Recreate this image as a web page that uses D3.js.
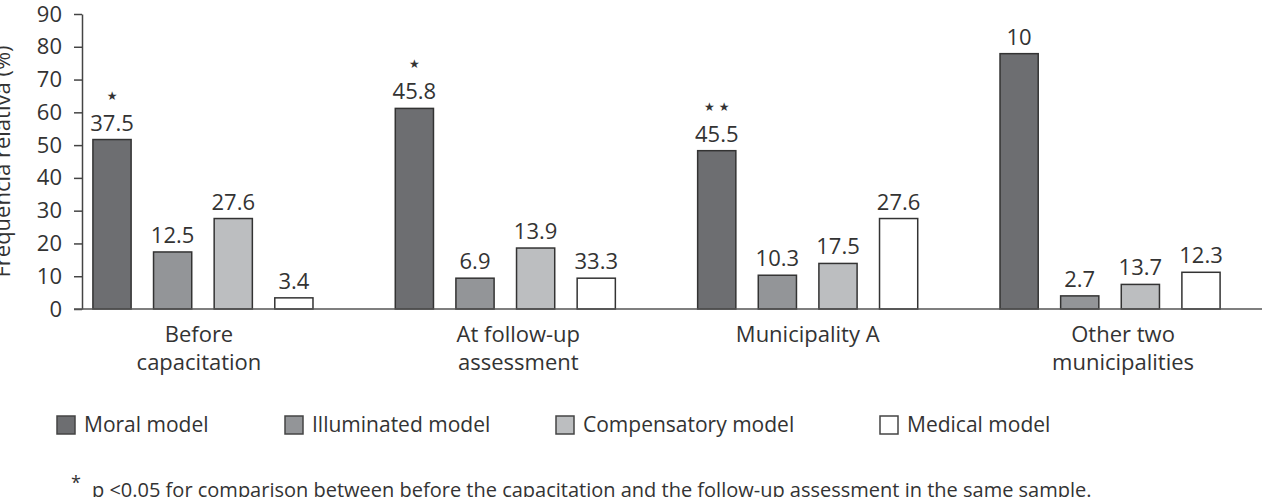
<!DOCTYPE html>
<html>
<head>
<meta charset="utf-8">
<script src="https://cdn.jsdelivr.net/npm/d3@7"></script>
<style>
  body { margin: 0; background: #fff; }
  svg text { font-family: "Open Sans", sans-serif; fill: #333; }
</style>
</head>
<body>
<svg id="chart"></svg>
<script>
var categories = [["Before", "capacitation"], ["At follow-up", "assessment"], ["Municipality A"], ["Other two", "municipalities"]]
var series = ["Moral model", "Illuminated model", "Compensatory model", "Medical model"]
var colors = ["#6d6e71", "#939598", "#bcbec0", "#ffffff"]

// bar heights as drawn (the printed labels do not match them)
var moral = [51.7, 61.2, 48.3, 77.9]
var illuminated = [17.4, 9.4, 10.3, 4.0]
var compensatory = [27.6, 18.6, 13.9, 7.5]
var medical = [3.4, 9.4, 27.6, 11.2]

// labels printed above the bars
var moralLabels = ["37.5", "45.8", "45.5", "10"]
var illuminatedLabels = ["12.5", "6.9", "10.3", "2.7"]
var compensatoryLabels = ["27.6", "13.9", "17.5", "13.7"]
var medicalLabels = ["3.4", "33.3", "27.6", "12.3"]
var stars = ["★", "★", "★ ★", ""]

var yTicks = [0, 10, 20, 30, 40, 50, 60, 70, 80, 90]
var yTitle = "Frequência relativa (%)"
var footnote = "p <0.05 for comparison between before the capacitation and the follow-up assessment in the same sample."

var dimensions = {
    width: 1271,
    height: 497,
    margin: {top: 14, bottom: 188, left: 82, right: 40}
}

var values = [moral, illuminated, compensatory, medical]
var labels = [moralLabels, illuminatedLabels, compensatoryLabels, medicalLabels]

var rows = []
categories.forEach(function(c, i) {
    series.forEach(function(s, j) {
        rows.push({cat: i, ser: j, value: values[j][i], label: labels[j][i]})
    })
})

var svg = d3.select("#chart")
    .attr("width", dimensions.width)
    .attr("height", dimensions.height)

var x0 = d3.scaleBand()
    .domain(d3.range(categories.length))
    .range([dimensions.margin.left, 1231])
    .paddingInner(0.2)
    .paddingOuter(0)

var x1 = d3.scaleBand()
    .domain(d3.range(series.length))
    .range([0, x0.bandwidth()])
    .paddingInner(0.37)
    .paddingOuter(0.18)

var yScale = d3.scaleLinear()
    .domain([0, 90])
    .range([dimensions.height - dimensions.margin.bottom, dimensions.margin.top])

var y0 = yScale(0)

// y axis
var yAxis = svg.append("g")
    .attr("transform", "translate(" + dimensions.margin.left + ",0)")
    .call(d3.axisLeft(yScale).tickValues(yTicks).tickSize(8).tickSizeOuter(0).tickPadding(12))
yAxis.select(".domain").attr("stroke", "#444").attr("stroke-width", 1.5)
yAxis.selectAll(".tick line").attr("stroke", "#444").attr("stroke-width", 1.5)
yAxis.selectAll(".tick text")
    .style("font-size", "22px")
    .style("font-family", "'Open Sans', sans-serif")
    .attr("fill", "#333")

svg.append("text")
    .attr("transform", "translate(10," + yScale(45) + ") rotate(-90)")
    .attr("text-anchor", "middle")
    .style("font-size", "22px")
    .text(yTitle)

// bars
svg.append("g")
    .selectAll("rect")
    .data(rows)
    .enter()
    .append("rect")
    .attr("x", d => x0(d.cat) + x1(d.ser))
    .attr("y", d => yScale(d.value))
    .attr("width", x1.bandwidth())
    .attr("height", d => y0 - yScale(d.value))
    .attr("fill", d => colors[d.ser])
    .attr("stroke", "#333")
    .attr("stroke-width", 1.5)

// baseline
svg.append("line")
    .attr("x1", dimensions.margin.left - 8)
    .attr("x2", 1262)
    .attr("y1", y0)
    .attr("y2", y0)
    .attr("stroke", "#555")
    .attr("stroke-width", 1.5)

// value labels
svg.append("g")
    .selectAll("text")
    .data(rows)
    .enter()
    .append("text")
    .attr("x", d => x0(d.cat) + x1(d.ser) + x1.bandwidth() / 2)
    .attr("y", d => yScale(d.value) - 9)
    .attr("text-anchor", "middle")
    .style("font-size", "22px")
    .text(d => d.label)

// significance stars over the moral bars
svg.append("g")
    .selectAll("text")
    .data(stars)
    .enter()
    .append("text")
    .attr("x", (d, i) => x0(i) + x1(0) + x1.bandwidth() / 2)
    .attr("y", (d, i) => yScale(moral[i]) - 40)
    .attr("text-anchor", "middle")
    .style("font-family", "'DejaVu Sans', sans-serif")
    .style("font-size", "12px")
    .text(d => d)

// category labels (slightly shifted as in the original)
var labelShift = [-4, 13, 0, 13]
var catLabels = svg.append("g")
    .selectAll("text")
    .data(categories)
    .enter()
    .append("text")
    .attr("text-anchor", "middle")
    .style("font-size", "22px")
    .attr("transform", (d, i) => "translate(" + (x0(i) + x0.bandwidth() / 2 + labelShift[i]) + "," + (y0 + 33) + ")")
catLabels.selectAll("tspan")
    .data(d => d)
    .enter()
    .append("tspan")
    .attr("x", 0)
    .attr("dy", (d, i) => i == 0 ? 0 : 28)
    .text(d => d)

// legend
var legendX = [57, 285, 556, 880]
var legend = svg.append("g")
    .selectAll("g")
    .data(series)
    .enter()
    .append("g")
    .attr("transform", (d, i) => "translate(" + legendX[i] + ",416)")
legend.append("rect")
    .attr("width", 18)
    .attr("height", 18)
    .attr("fill", (d, i) => colors[i])
    .attr("stroke", "#444")
    .attr("stroke-width", 1.5)
legend.append("text")
    .attr("x", 27)
    .attr("y", 16)
    .style("font-size", "21px")
    .text(d => d)

// footnote
svg.append("text")
    .attr("x", 71)
    .attr("y", 489)
    .style("font-size", "18px")
    .text("*")
svg.append("text")
    .attr("x", 92)
    .attr("y", 497)
    .style("font-size", "20px")
    .text(footnote)
</script>
</body>
</html>
